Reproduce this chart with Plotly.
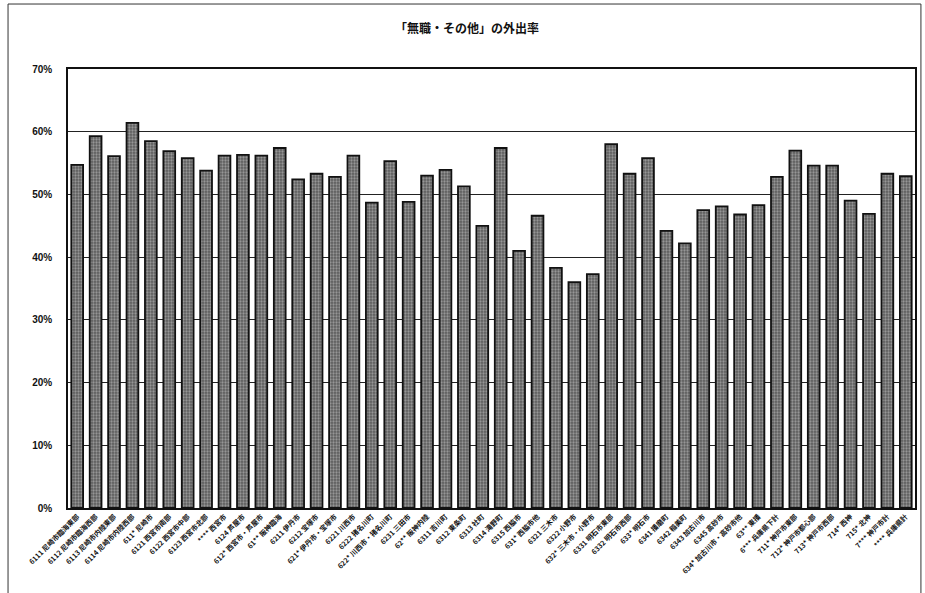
import plotly.graph_objects as go

# Zone labels (code + area name)
categories = [
    "6111 尼崎市臨海東部", "6112 尼崎市臨海西部", "6113 尼崎市内陸東部", "6114 尼崎市内陸西部",
    "611* 尼崎市", "6121 西宮市南部", "6122 西宮市中部", "6123 西宮市北部", "**** 西宮市",
    "6124 芦屋市", "612* 西宮市・芦屋市", "61** 阪神臨海", "6211 伊丹市", "6212 宝塚市",
    "621* 伊丹市・宝塚市", "6221 川西市", "6222 猪名川町", "622* 川西市・猪名川町", "6231 三田市",
    "62** 阪神内陸", "6311 吉川町", "6312 東条町", "6313 社町", "6314 滝野町", "6315 西脇市",
    "631* 西脇市他", "6321 三木市", "6322 小野市", "632* 三木市・小野市", "6331 明石市東部",
    "6332 明石市西部", "633* 明石市", "6341 播磨町", "6342 稲美町", "6343 加古川市", "6345 高砂市",
    "634* 加古川市・高砂市他", "63** 東播", "6*** 兵庫県下計", "711* 神戸市東部", "712* 神戸市都心部",
    "713* 神戸市西部", "714* 西神", "715* 北神", "7*** 神戸市計", "**** 兵庫県計",
]

# Share of trips made ("無職・その他"), percent
outing_rate = [
    54.7, 59.3, 56.1, 61.4, 58.5, 56.9, 55.8, 53.8, 56.2,
    56.3, 56.2, 57.4, 52.4, 53.3, 52.8, 56.2, 48.7, 55.3, 48.8,
    53.0, 53.9, 51.3, 45.0, 57.4, 41.0, 46.6, 38.3, 36.0, 37.3, 58.0,
    53.3, 55.8, 44.2, 42.2, 47.5, 48.1, 46.8, 48.3, 52.8, 57.0, 54.6,
    54.6, 49.0, 46.9, 53.3, 52.9,
]

y_ticks = [0, 10, 20, 30, 40, 50, 60, 70]

fig = go.Figure(
    go.Bar(
        x=categories,
        y=outing_rate,
        marker=dict(
            color="#666666",
            line=dict(color="#111111", width=1.8),
            pattern=dict(shape=".", fgcolor="#d0d0d0", bgcolor="#5c5c5c", size=3, solidity=0.45),
        ),
        width=0.64,
        hovertemplate="%{x}: %{y}%<extra></extra>",
    )
)

fig.update_layout(
    width=925,
    height=593,
    margin=dict(l=68, r=10, t=69, b=85),
    paper_bgcolor="white",
    plot_bgcolor="white",
    showlegend=False,
    title=dict(
        text="「無職・その他」の外出率",
        x=0.505,
        xanchor="center",
        y=0.952,
        yanchor="middle",
        font=dict(family="Noto Sans CJK JP", size=12, color="#111111", weight="bold"),
    ),
    font=dict(family="Noto Sans CJK JP", color="#111111"),
)

fig.update_xaxes(
    type="category",
    tickangle=-45,
    tickfont=dict(family="Noto Sans CJK JP", size=7, weight="bold", color="#111111"),
    showline=True,
    linecolor="#111111",
    linewidth=2,
    mirror=True,
    ticks="",
    automargin=False,
    range=[-0.5, len(categories) - 0.5],
)

fig.update_yaxes(
    range=[0, 70],
    tickvals=y_ticks,
    ticktext=[f"{v}%" for v in y_ticks],
    tickfont=dict(family="Arial", size=10, weight="bold", color="#111111"),
    showgrid=True,
    gridcolor="#222222",
    gridwidth=1,
    showline=True,
    linecolor="#111111",
    linewidth=1.5,
    mirror=True,
    ticks="",
    ticklabelstandoff=12,
    automargin=False,
    zeroline=False,
)

# Outer chart frame
fig.add_shape(
    type="rect", xref="paper", yref="paper",
    x0=-0.0708, x1=1.007, y0=-0.21, y1=1.148,
    line=dict(color="#333333", width=1),
)

fig.write_html("out.html")
